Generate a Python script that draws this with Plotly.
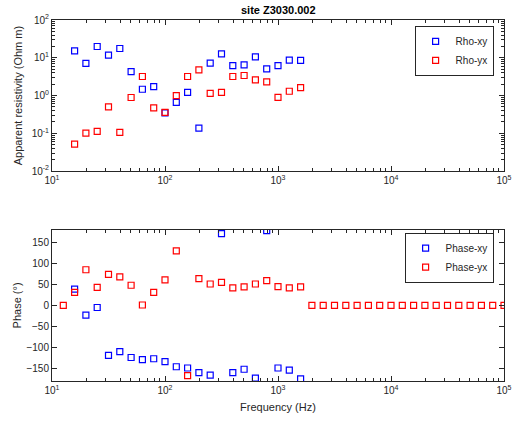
import plotly.graph_objects as go

# Frequencies (Hz), ten per decade
freq = [12.59, 15.85, 19.95, 25.12, 31.62, 39.81, 50.12, 63.10, 79.43, 100.0,
        125.9, 158.5, 199.5, 251.2, 316.2, 398.1, 501.2, 631.0, 794.3, 1000.0,
        1259.0, 1585.0, 1995.0, 2512.0, 3162.0, 3981.0, 5012.0, 6310.0, 7943.0, 10000.0,
        12589.0, 15849.0, 19953.0, 25119.0, 31623.0, 39811.0, 50119.0, 63096.0, 79433.0, 100000.0]

# Frequencies with impedance estimates (15.85 Hz .. 1585 Hz)
freq_z = freq[1:22]

rho_xy = [15.3, 7.1, 19.9, 11.7, 17.6, 4.3, 1.47, 1.73, 0.35, 0.66, 1.22,
          0.138, 7.2, 12.7, 6.2, 6.5, 10.6, 5.1, 6.2, 8.7, 8.5]
rho_yx = [0.052, 0.102, 0.113, 0.50, 0.106, 0.89, 3.2, 0.47, 0.36, 1.0, 3.2,
          4.8, 1.15, 1.22, 3.2, 3.4, 2.6, 2.3, 0.90, 1.30, 1.63]

phase_xy = [39, -23, -5, -119, -110, -124, -129, -127, -134, -146, -149,
            -160, -166, 171, -160, -152, -173, 178, -149, -154, -175]
phase_yx = [0, 31, 85, 43, 74, 68, 48, 1, 31, 61, 130, -167, 64, 51, 55, 42,
            44, 51, 59, 45, 42, 44,
            0, 0, 0, 0, 0, 0, 0, 0, 0, 0, 0, 0, 0, 0, 0, 0, 0, 0]

x_ticks = [10, 100, 1000, 10000, 100000]
x_ticktext = ["10<sup>1</sup>", "10<sup>2</sup>", "10<sup>3</sup>", "10<sup>4</sup>", "10<sup>5</sup>"]
rho_ticks = [0.01, 0.1, 1, 10, 100]
rho_ticktext = ["10<sup>-2</sup>", "10<sup>-1</sup>", "10<sup>0</sup>", "10<sup>1</sup>", "10<sup>2</sup>"]
phase_ticks = [-150, -100, -50, 0, 50, 100, 150]

BLUE = "#0000ff"
RED = "#ff0000"
AX = "#262626"
FONT = "Liberation Sans, Arial, Helvetica, sans-serif"


def minor_log(lo, hi):
    vals = []
    e = lo
    while e < hi:
        for m in range(2, 10):
            vals.append(m * 10.0 ** e)
        e += 1
    return vals


def marker(color):
    return dict(symbol="square-open", size=6, color=color, line=dict(width=1.2, color=color))


fig = go.Figure()
fig.add_trace(go.Scatter(x=freq_z, y=rho_xy, mode="markers", name="Rho-xy",
                         marker=marker(BLUE), xaxis="x", yaxis="y", legend="legend"))
fig.add_trace(go.Scatter(x=freq_z, y=rho_yx, mode="markers", name="Rho-yx",
                         marker=marker(RED), xaxis="x", yaxis="y", legend="legend"))
fig.add_trace(go.Scatter(x=freq_z, y=phase_xy, mode="markers", name="Phase-xy",
                         marker=marker(BLUE), xaxis="x2", yaxis="y2", legend="legend2"))
fig.add_trace(go.Scatter(x=freq, y=phase_yx, mode="markers", name="Phase-yx",
                         marker=marker(RED), xaxis="x2", yaxis="y2", legend="legend2"))

common = dict(showline=True, linecolor=AX, linewidth=1, mirror="ticks", ticks="inside",
              ticklen=5, tickcolor=AX, tickwidth=1, showgrid=False, zeroline=False,
              tickfont=dict(family=FONT, size=10, color=AX))
xminor = dict(tickmode="array", tickvals=minor_log(1, 5), ticks="inside", ticklen=3,
              tickcolor=AX, showgrid=False)

fig.update_layout(
    width=523, height=423,
    margin=dict(l=52, r=11, t=20, b=40),
    paper_bgcolor="white", plot_bgcolor="white",
    font=dict(family=FONT, size=10, color=AX),
    xaxis=dict(type="log", range=[1, 5], tickvals=x_ticks, ticktext=x_ticktext,
               domain=[0, 1], anchor="y", minor=xminor, **common),
    yaxis=dict(type="log", range=[-2, 2], tickvals=rho_ticks, ticktext=rho_ticktext,
               domain=[0.5813, 1.0], anchor="x",
               minor=dict(tickmode="array", tickvals=minor_log(-2, 2), ticks="inside",
                          ticklen=3, tickcolor=AX, showgrid=False),
               title=dict(text="Apparent resistivity (Ohm m)", font=dict(size=11, color=AX), standoff=6),
               **common),
    xaxis2=dict(type="log", range=[1, 5], tickvals=x_ticks, ticktext=x_ticktext,
                domain=[0, 1], anchor="y2", minor=xminor,
                title=dict(text="Frequency (Hz)", font=dict(size=11, color=AX), standoff=8),
                **common),
    yaxis2=dict(range=[-180, 180], tickvals=phase_ticks, domain=[0, 0.4187], anchor="x2",
                title=dict(text="Phase (°)", font=dict(size=11, color=AX), standoff=2),
                **common),
    legend=dict(x=0.977, y=0.984, xanchor="right", yanchor="top",
                bordercolor=AX, borderwidth=1, bgcolor="white",
                font=dict(family=FONT, size=10, color=AX), tracegroupgap=0),
    legend2=dict(x=0.977, y=0.411, xanchor="right", yanchor="top",
                 bordercolor=AX, borderwidth=1, bgcolor="white",
                 font=dict(family=FONT, size=10, color=AX), tracegroupgap=0),
    annotations=[dict(text="<b>site Z3030.002</b>", xref="paper", yref="paper",
                      x=0.5, y=(383 - 10) / 363, xanchor="center", yanchor="middle",
                      showarrow=False, font=dict(family=FONT, size=11, color="black"))],
)

fig.write_html("out.html")
